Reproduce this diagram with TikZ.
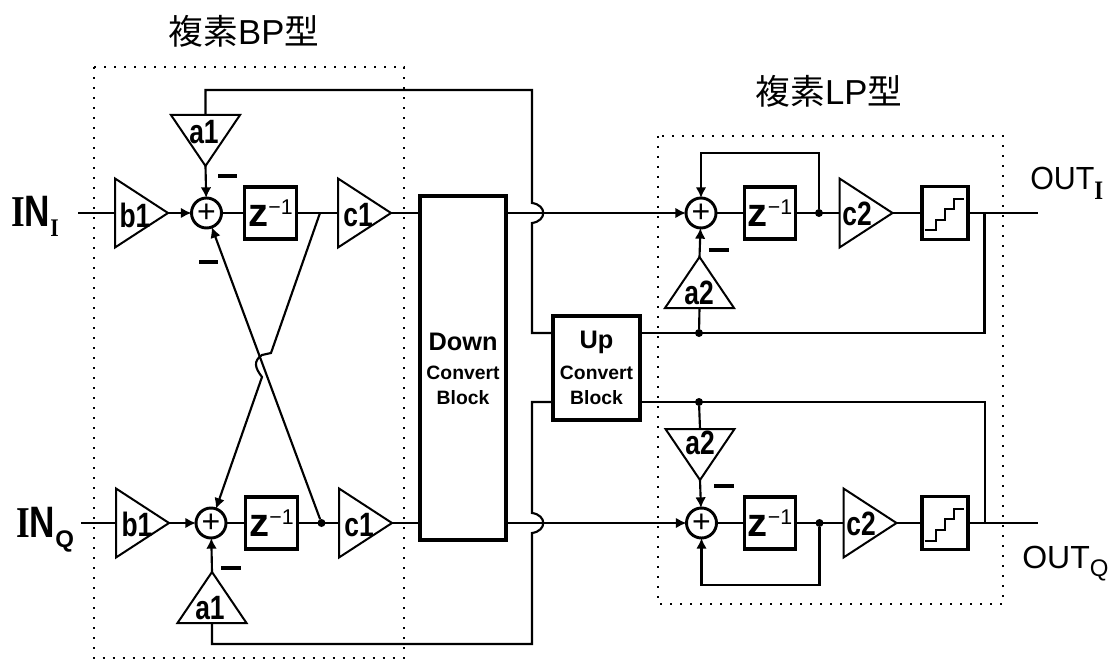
\documentclass[tikz,border=0pt]{standalone}
\usepackage{fontspec}
\usepackage{graphicx}
\setmainfont{Liberation Sans}
\newfontfamily\cjk{Noto Sans CJK JP}
\newfontfamily\serifb[BoldFont={Liberation Serif Bold}]{Liberation Serif}
\usetikzlibrary{shapes.geometric,arrows.meta}
\newcommand\fs[1]{\fontsize{#1}{#1}\selectfont}
\newcommand\sI{{\serifb\bfseries I}}
\newcommand\zm{{\fs{30}\bfseries z}\raisebox{9pt}{\fs{16}−1}}
\newcommand\gt[1]{\scalebox{0.9}[1.15]{\fs{22}\bfseries #1}}
\tikzset{
  wire/.style={line width=1.6pt},
  arr/.style={wire,-{Latex[length=8pt,width=8pt]}},
  amp/.style={isosceles triangle,isosceles triangle stretches,draw,line width=1.5pt,inner sep=0pt,outer sep=0pt},
  ampr/.style={amp,shape border rotate=0,minimum width=51.75pt,minimum height=39.75pt,anchor=apex},
  ampu/.style={amp,shape border rotate=90,minimum width=51.75pt,minimum height=38.25pt,anchor=apex},
  ampd/.style={amp,shape border rotate=270,minimum width=51.75pt,minimum height=38.25pt,anchor=apex},
  sumn/.style={circle,draw,line width=2.2pt,minimum size=22.5pt,inner sep=0pt,outer sep=0pt,font=\fs{24}},
  zbox/.style={rectangle,draw,line width=2.4pt,minimum width=38.5pt,minimum height=39pt,inner sep=0pt,outer sep=0pt},
  qbox/.style={rectangle,draw,line width=2.4pt,minimum width=34.5pt,minimum height=39.5pt,inner sep=0pt,outer sep=0pt},
  block/.style={rectangle,draw,line width=2.6pt,inner sep=0pt,outer sep=0pt},
  gain/.style={inner sep=0pt},
  dot/.style={circle,fill=black,minimum size=6pt,inner sep=0pt,outer sep=0pt},
  dotbox/.style={line width=1.5pt,dash pattern=on 1.5pt off 6pt},
  minus/.style={line width=2.4pt},
  title/.style={font=\fs{26},inner sep=0pt},
  port/.style={anchor=base west,inner sep=0pt},
  blocktext/.style={align=center,inner sep=0pt,font=\bfseries}
}
\begin{document}
\begin{tikzpicture}[x=0.75pt,y=-0.75pt]
\useasboundingbox (0,0) rectangle (1113,659);
% dotted boxes
\draw[dotbox] (93.6,67) rectangle (403.6,658);
\draw[dotbox] (658,136) rectangle (1003,604);
% titles
\node[title] (tBP) at (244,31) {{\cjk 複素}BP{\cjk 型}};
\node[title] (tLP) at (829,91) {{\cjk 複素}LP{\cjk 型}};
% ports
\node[port] (lINI) at (11,227) {\fs{33}\bfseries\scalebox{0.8}[1]{\sI N}\raisebox{-7pt}{\fs{19}\scalebox{0.85}[1]{\sI}}};
\node[port] (lINQ) at (16,537) {\fs{33}\bfseries\scalebox{0.8}[1]{\sI N}\raisebox{-7.5pt}{\fs{18}Q}};
\node[port] (lOUTI) at (1030,190) {\fs{24}\scalebox{0.95}[1]{OUT}\raisebox{-7.5pt}{\fs{20}\scalebox{0.85}[1]{\sI}}};
\node[port] (lOUTQ) at (1022,568) {\fs{24}OUT\raisebox{-6.5pt}{\fs{18}Q}};
% BP section
\coordinate (inI) at (78,213);
\coordinate (inQ) at (81,523);
\node[ampr] (b1I) at (168,213) {};
\node[ampr] (b1Q) at (169,523) {};
\node[sumn] (sBI) at (206.5,213) {+};
\node[sumn] (sBQ) at (211,523) {+};
\node[zbox] (zBI) at (270.5,213) {\zm};
\node[zbox] (zBQ) at (271.5,523) {\zm};
\node[ampr] (c1I) at (391,213) {};
\node[ampr] (c1Q) at (392,523) {};
\node[ampd] (a1I) at (205.5,166) {};
\node[ampu] (a1Q) at (212,572) {};
\coordinate (jBI) at (320,213);
\node[dot] (jBQ) at (321.5,523) {};
\node[gain] (tb1I) at (135,215) {\gt{b1}};
\node[gain] (tb1Q) at (137,524) {\gt{b1}};
\node[gain] (tc1I) at (358,215) {\gt{c1}};
\node[gain] (tc1Q) at (359,525) {\gt{c1}};
\node[gain] (ta1I) at (204,132) {\gt{a1}};
\node[gain] (ta1Q) at (210,608) {\gt{a1}};
% blocks
\node[block,minimum width=64.5pt,minimum height=258pt] (down) at (463,368) {};
\node[blocktext] (downt) at (463,342) {\fs{19}Down};
\node[blocktext] (downc) at (463,373) {\fs{14.5}Convert};
\node[blocktext] (downb) at (463,398) {\fs{14.5}Block};
\node[block,minimum width=65.25pt,minimum height=78pt] (up) at (596.5,368) {};
\node[blocktext] (upt) at (596.5,342) {\fs{19}Up};
\node[blocktext] (upc) at (596.5,373) {\fs{14.5}Convert};
\node[blocktext] (upb) at (596.5,398) {\fs{14.5}Block};
% LP section
\node[sumn] (sLI) at (701,213) {+};
\node[sumn] (sLQ) at (701.5,523) {+};
\node[zbox] (zLI) at (770,213) {\zm};
\node[zbox] (zLQ) at (770,523) {\zm};
\node[ampr] (c2I) at (892.5,213) {};
\node[ampr] (c2Q) at (896.5,523) {};
\node[qbox] (qI) at (945,213) {};
\node[qbox] (qQ) at (945,523) {};
\node[ampu] (a2I) at (699.5,257) {};
\node[ampd] (a2Q) at (700,480) {};
\node[dot] (jLI) at (819,213) {};
\node[dot] (jLQ) at (819.5,523) {};
\node[dot] (jAI) at (699,333) {};
\node[dot] (jAQ) at (699,402) {};
\node[gain] (tc2I) at (857,214) {\gt{c2}};
\node[gain] (tc2Q) at (861,524) {\gt{c2}};
\node[gain] (ta2I) at (699,293) {\gt{a2}};
\node[gain] (ta2Q) at (700,443) {\gt{a2}};
\coordinate (outI) at (1038,213);
\coordinate (outQ) at (1038,523);
\coordinate (brI) at (984.5,213);
\coordinate (brQ) at (985,523);
\coordinate (vtop) at (532,90);
\coordinate (vbot) at (532,644);
\coordinate (vUI) at (532,333);
\coordinate (vUQ) at (532,402);
% staircases
\foreach \c in {qI,qQ}
  \draw[line width=1.5pt] (\c)
    ++(-20.4,17.5) -- ++(10.9,0) -- ++(0,-10.7) -- ++(9.8,0) -- ++(0,-11) -- ++(8.6,0) -- ++(0,-10) -- ++(9.8,0);
% wires BP
\draw[wire] (inI) -- (b1I.lower side);
\draw[wire] (inQ) -- (b1Q.lower side);
\draw[arr] (b1I.apex) -- (sBI);
\draw[arr] (b1Q.apex) -- (sBQ);
\draw[wire] (sBI) -- (zBI);
\draw[wire] (sBQ) -- (zBQ);
\draw[wire] (zBI) -- (c1I.lower side);
\draw[wire] (zBQ) -- (c1Q.lower side);
\draw[wire] (c1I.apex) -- (down.west |- c1I.apex);
\draw[wire] (c1Q.apex) -- (down.west |- c1Q.apex);
\draw[arr] (a1I.apex) -- (sBI);
\draw[arr] (a1Q.apex) -- (sBQ);
\draw[arr] (jBQ) -- (sBI);
\draw[arr] (jBI) -- (271,353) -- (262,355) .. controls (253,361) and (255,368) .. (262,377) -- (sBQ);
% feedback to a1 (top) and a1 (bottom)
\draw[wire] (a1I.lower side) |- (vtop) -- (532,203) .. controls (547,205) and (547,221) .. (532,223) -- (vUI) -- (up.west |- vUI);
\draw[wire] (a1Q.lower side) |- (vbot) -- (532,533) .. controls (547,531) and (547,515) .. (532,513) -- (vUQ) -- (up.west |- vUQ);
% wires LP
\draw[arr] (down.east |- sLI.west) -- (sLI.west);
\draw[arr] (down.east |- sLQ.west) -- (sLQ.west);
\draw[wire] (sLI) -- (zLI);
\draw[wire] (sLQ) -- (zLQ);
\draw[wire] (zLI) -- (c2I.lower side);
\draw[wire] (zLQ) -- (c2Q.lower side);
\draw[wire] (c2I.apex) -- (qI);
\draw[wire] (c2Q.apex) -- (qQ);
\draw[wire] (qI) -- (outI);
\draw[wire] (qQ) -- (outQ);
\draw[arr] (jLI) |- (sLI |- 0,153) -- (sLI);
\draw[arr] (jLQ) |- (sLQ |- 0,585) -- (sLQ);
\draw[arr] (a2I.apex) -- (sLI);
\draw[arr] (a2Q.apex) -- (sLQ);
\draw[wire] (a2I.lower side) -- (jAI);
\draw[wire] (a2Q.lower side) -- (jAQ);
\draw[wire] (up.east |- jAI) -| (brI);
\draw[wire] (up.east |- jAQ) -| (brQ);
% minus signs
\draw[minus] (218,176) -- (237,176);
\draw[minus] (199,262) -- (218,262);
\draw[minus] (221,568) -- (241,568);
\draw[minus] (709,250) -- (728.5,250);
\draw[minus] (714,486) -- (733.5,486);
\end{tikzpicture}
\end{document}
